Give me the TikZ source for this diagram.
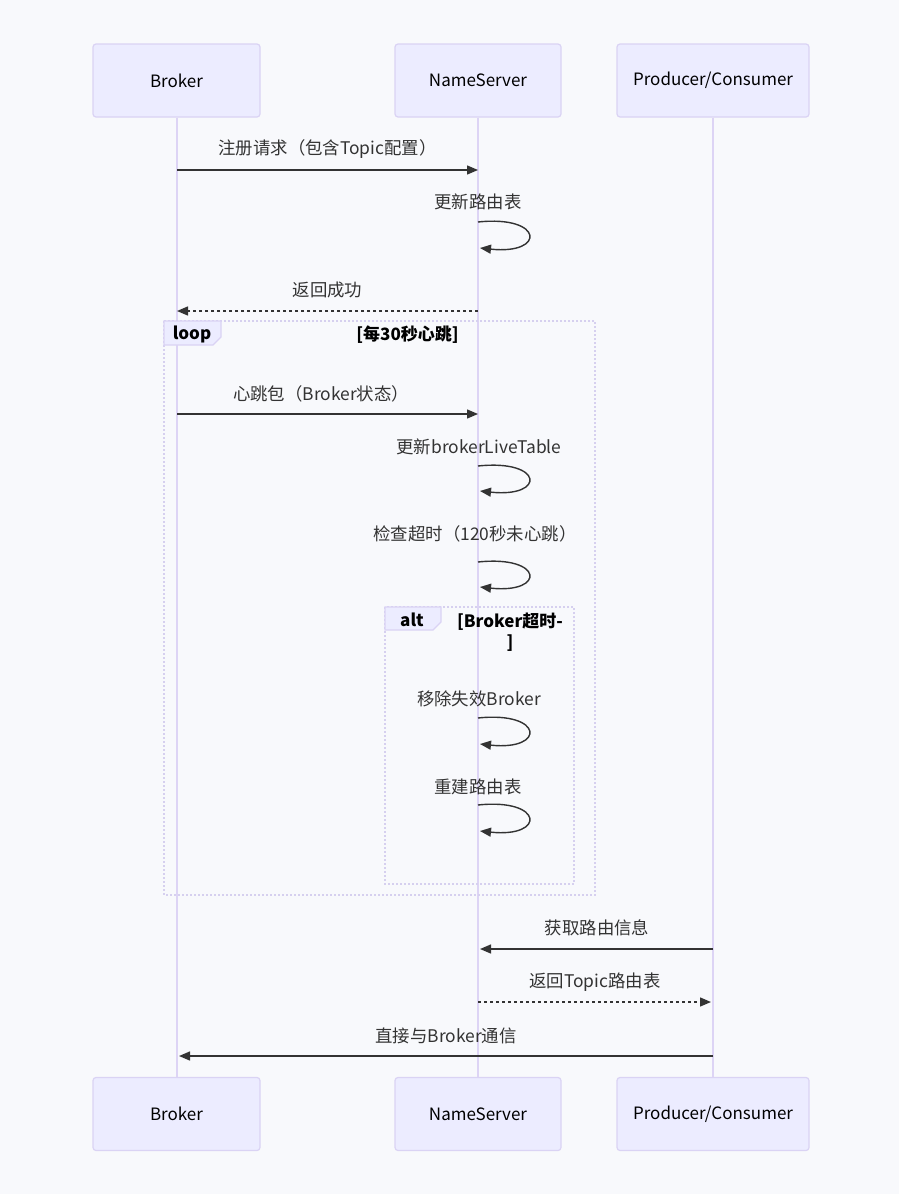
\documentclass[tikz,border=0pt]{standalone}
\usepackage{fontspec}
\setmainfont{Noto Sans CJK SC}
\usetikzlibrary{arrows.meta}

\definecolor{bgcol}{HTML}{F8F9FC}
\definecolor{actfill}{HTML}{ECECFF}
\definecolor{actline}{HTML}{DAD3F4}
\definecolor{lifecol}{HTML}{DDD4F5}
\definecolor{msgcol}{HTML}{333333}
\definecolor{framecol}{HTML}{D6D0EF}

\tikzset{
  actor/.style={draw=actline, fill=actfill, line width=1.2pt, rounded corners=3pt,
    minimum height=73pt, font=\fontsize{17}{20}\selectfont, text=black},
  life/.style={draw=lifecol, line width=2pt},
  msg/.style={draw=msgcol, line width=1.4pt, -{Triangle[length=11pt,width=9pt]}},
  reply/.style={msg, dash pattern=on 3pt off 3pt},
  lbl/.style={font=\fontsize{17.4}{20}\selectfont, text=msgcol, inner sep=0pt},
  frame/.style={draw=framecol, line width=2pt, dash pattern=on 2pt off 2pt},
  tab/.style={draw=actline, fill=actfill, line width=1.2pt},
  cond/.style={font=\bfseries\fontsize{17}{21}\selectfont, text=black, inner sep=0pt, align=center}
}

\begin{document}
\begin{tikzpicture}[x=1pt, y=-1pt]
  \fill[bgcol] (0,0) rectangle (899,1194);
  \useasboundingbox (0,0) rectangle (899,1194);

  % actors
  \node[actor, minimum width=167pt] (b-top) at (176.5,80.5) {Broker};
  \node[actor, minimum width=166pt] (n-top) at (478,80.5) {NameServer};
  \node[actor, minimum width=192pt] (p-top) at (713,80.5) {Producer/Consumer};
  \node[actor, minimum width=167pt] (b-bot) at (176.5,1114) {Broker};
  \node[actor, minimum width=166pt] (n-bot) at (478,1114) {NameServer};
  \node[actor, minimum width=192pt] (p-bot) at (713,1114) {Producer/Consumer};

  \draw[life] (b-top.south) -- (b-bot.north);
  \draw[life] (n-top.south) -- (n-bot.north);
  \draw[life] (p-top.south) -- (p-bot.north);

  % loop and alt frames
  \draw[frame] (164,321) rectangle (595,895);
  \draw[tab] (164,321) -- (221,321) -- (221,337) -- (213,345) -- (164,345) -- cycle;
  \node[cond] (loop) at (192,334) {loop};
  \node[cond] (loopc) at (407.5,335) {[每30秒心跳]};

  \draw[frame] (385,607) rectangle (574,884);
  \draw[tab] (385,607) -- (441,607) -- (441,622) -- (433,630) -- (385,630) -- cycle;
  \node[cond] (alt) at (412,620) {alt};
  \node[cond] (altc) at (510,632) {[Broker超时-\\]};

  % message points
  \coordinate (b1) at (177,170);  \coordinate (n1) at (478,170);
  \coordinate (s1a) at (478,222); \coordinate (s1b) at (480,248);
  \coordinate (b2) at (177,311);  \coordinate (n2) at (478,311);
  \coordinate (b3) at (177,414);  \coordinate (n3) at (478,414);
  \coordinate (s2a) at (478,466); \coordinate (s2b) at (480,491);
  \coordinate (s3a) at (478,562); \coordinate (s3b) at (480,587);
  \coordinate (s4a) at (478,718); \coordinate (s4b) at (480,744);
  \coordinate (s5a) at (478,805); \coordinate (s5b) at (480,831);
  \coordinate (n4) at (480,949);  \coordinate (p4) at (713,949);
  \coordinate (n5) at (478,1002); \coordinate (p5) at (711,1002);
  \coordinate (b6) at (179,1056); \coordinate (p6) at (713,1056);

  % messages
  \node[lbl] (m1) at (327.5,149) {注册请求（包含Topic配置）};
  \draw[msg] (b1) -- (n1);
  \node[lbl] (m2) at (478,202) {更新路由表};
  \draw[msg] (s1a) .. controls +(66,-7) and +(66,7) .. (s1b);
  \node[lbl] (m3) at (327.5,290) {返回成功};
  \draw[reply] (n2) -- (b2);
  \node[lbl] (m4) at (321,394) {心跳包（Broker状态）};
  \draw[msg] (b3) -- (n3);
  \node[lbl] (m5) at (479,447) {更新brokerLiveTable};
  \draw[msg] (s2a) .. controls +(66,-7) and +(66,7) .. (s2b);
  \node[lbl] (m6) at (475,534) {检查超时（120秒未心跳）};
  \draw[msg] (s3a) .. controls +(66,-7) and +(66,7) .. (s3b);
  \node[lbl] (m7) at (479,699) {移除失效Broker};
  \draw[msg] (s4a) .. controls +(66,-7) and +(66,7) .. (s4b);
  \node[lbl] (m8) at (478,787) {重建路由表};
  \draw[msg] (s5a) .. controls +(66,-7) and +(66,7) .. (s5b);
  \node[lbl] (m9) at (597,928) {获取路由信息};
  \draw[msg] (p4) -- (n4);
  \node[lbl] (m10) at (595,982) {返回Topic路由表};
  \draw[reply] (n5) -- (p5);
  \node[lbl] (m11) at (446,1036) {直接与Broker通信};
  \draw[msg] (p6) -- (b6);

\end{tikzpicture}
\end{document}
